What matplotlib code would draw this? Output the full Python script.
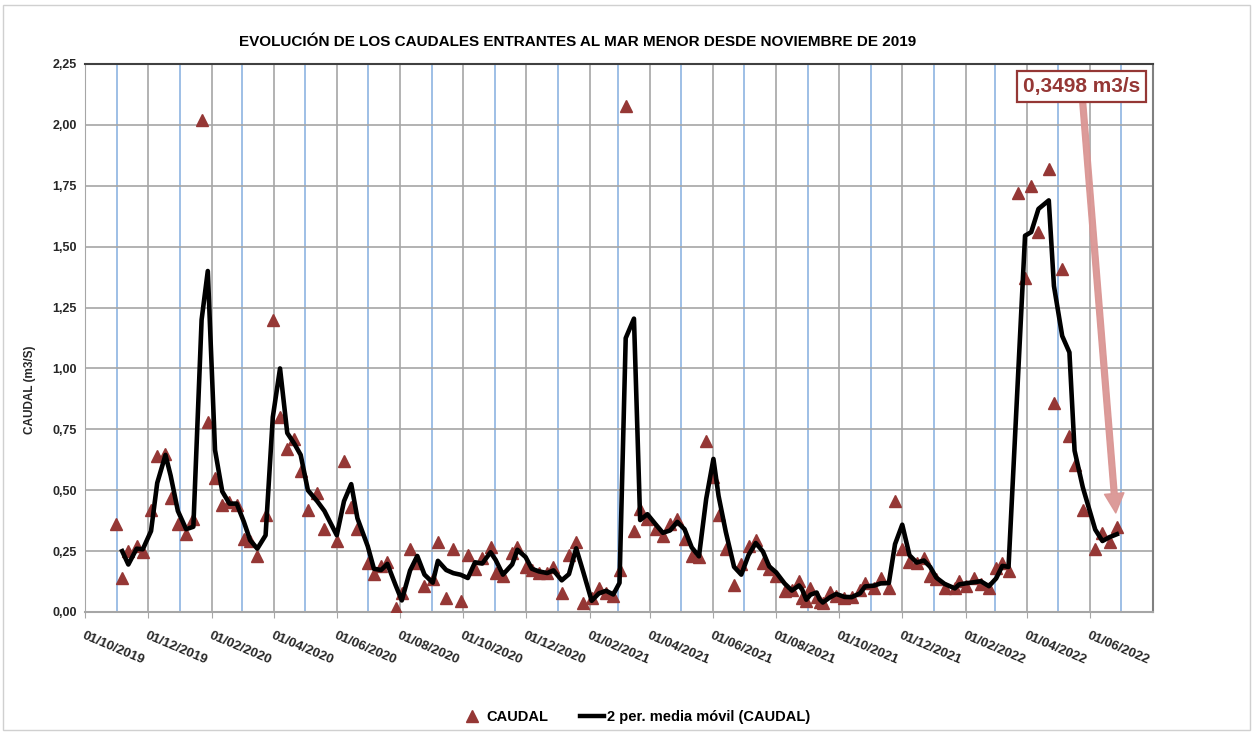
import matplotlib
matplotlib.use('Agg')
import matplotlib.pyplot as plt
import matplotlib.dates as mdates
from matplotlib.lines import Line2D
import numpy as np
import pandas as pd

fechas = [
    '2019-10-31', '2019-11-06', '2019-11-12', '2019-11-20', '2019-11-26',
    '2019-12-04', '2019-12-10', '2019-12-18', '2019-12-23', '2019-12-30',
    '2020-01-07', '2020-01-14', '2020-01-22', '2020-01-28', '2020-02-04',
    '2020-02-11', '2020-02-18', '2020-02-25', '2020-03-03', '2020-03-09',
    '2020-03-16', '2020-03-24', '2020-03-31', '2020-04-07', '2020-04-14',
    '2020-04-21', '2020-04-27', '2020-05-04', '2020-05-13', '2020-05-20',
    '2020-06-01', '2020-06-08', '2020-06-15', '2020-06-21', '2020-07-01',
    '2020-07-07', '2020-07-14', '2020-07-20', '2020-07-28', '2020-08-03',
    '2020-08-11', '2020-08-18', '2020-08-25', '2020-09-02', '2020-09-07',
    '2020-09-15', '2020-09-22', '2020-09-29', '2020-10-06', '2020-10-13',
    '2020-10-20', '2020-10-28', '2020-11-02', '2020-11-09', '2020-11-18',
    '2020-11-23', '2020-12-01', '2020-12-07', '2020-12-14', '2020-12-22',
    '2020-12-28', '2021-01-05', '2021-01-12', '2021-01-19', '2021-01-26',
    '2021-02-03', '2021-02-10', '2021-02-17', '2021-02-24', '2021-03-02',
    '2021-03-08', '2021-03-16', '2021-03-22', '2021-03-29', '2021-04-06',
    '2021-04-13', '2021-04-20', '2021-04-27', '2021-05-04', '2021-05-11',
    '2021-05-18', '2021-05-25', '2021-06-01', '2021-06-06', '2021-06-13',
    '2021-06-21', '2021-06-28', '2021-07-05', '2021-07-12', '2021-07-19',
    '2021-07-25', '2021-08-01', '2021-08-09', '2021-08-16', '2021-08-23',
    '2021-08-26', '2021-08-30', '2021-09-03', '2021-09-09', '2021-09-12',
    '2021-09-15', '2021-09-22', '2021-09-28', '2021-10-06', '2021-10-13',
    '2021-10-21', '2021-10-26', '2021-11-04', '2021-11-10', '2021-11-18',
    '2021-11-24', '2021-12-01', '2021-12-08', '2021-12-15', '2021-12-22',
    '2021-12-28', '2022-01-03', '2022-01-11', '2022-01-21', '2022-01-25',
    '2022-02-01', '2022-02-09', '2022-02-15', '2022-02-23', '2022-03-02',
    '2022-03-08', '2022-03-14', '2022-03-23', '2022-03-30', '2022-04-05',
    '2022-04-12', '2022-04-22', '2022-04-27', '2022-05-05', '2022-05-12',
    '2022-05-17', '2022-05-25', '2022-06-06', '2022-06-13', '2022-06-20',
    '2022-06-27',
]

caudal = [
    0.36, 0.14, 0.25, 0.27, 0.245,
    0.42, 0.64, 0.65, 0.47, 0.36,
    0.32, 0.38, 2.02, 0.78, 0.55,
    0.44, 0.45, 0.44, 0.30, 0.29,
    0.23, 0.40, 1.20, 0.80, 0.67,
    0.71, 0.58, 0.42, 0.49, 0.34,
    0.29, 0.62, 0.43, 0.34, 0.20,
    0.155, 0.19, 0.205, 0.015, 0.08,
    0.26, 0.20, 0.107, 0.134, 0.286,
    0.059, 0.26, 0.046, 0.233, 0.175,
    0.223, 0.268, 0.159, 0.148, 0.243,
    0.268, 0.183, 0.172, 0.161, 0.159,
    0.183, 0.077, 0.234, 0.289, 0.036,
    0.056, 0.097, 0.077, 0.067, 0.172,
    2.077, 0.332, 0.423, 0.38, 0.34,
    0.31, 0.36, 0.38, 0.30, 0.23,
    0.227, 0.702, 0.555, 0.398, 0.26,
    0.111, 0.196, 0.271, 0.296, 0.20,
    0.175, 0.148, 0.086, 0.09, 0.128,
    0.056, 0.045, 0.097, 0.063, 0.04,
    0.038, 0.083, 0.065, 0.059, 0.063,
    0.09, 0.12, 0.097, 0.138, 0.10,
    0.457, 0.26, 0.206, 0.20, 0.223,
    0.148, 0.134, 0.097, 0.097, 0.129,
    0.107, 0.138, 0.115, 0.097, 0.179,
    0.20, 0.17, 1.72, 1.37, 1.75,
    1.56, 1.82, 0.857, 1.41, 0.722,
    0.603, 0.42, 0.257, 0.326, 0.289,
    0.3498,
]

titulo = 'EVOLUCIÓN DE LOS CAUDALES ENTRANTES AL MAR MENOR DESDE NOVIEMBRE DE 2019'
ROJO = '#953735'
AZUL = '#8DB4E2'
GRIS = '#A6A6A6'


def main():
    df = pd.DataFrame({'fecha': pd.to_datetime(fechas), 'caudal': caudal})
    df['media'] = df['caudal'].rolling(2).mean()

    plt.rcParams['font.family'] = ['Liberation Sans', 'DejaVu Sans']
    fig = plt.figure(figsize=(12.54, 7.33), dpi=100)
    ax = fig.add_axes([85 / 1254, 1 - 612 / 733, 1068 / 1254, 548 / 733])

    ax.plot(df['fecha'], df['caudal'], '^', color=ROJO, ms=8.5, ls='none',
            zorder=3, label='CAUDAL')
    ax.plot(df['fecha'], df['media'], color='black', lw=3.3, zorder=4,
            label='2 per. media móvil (CAUDAL)')

    ax.set_xlim(pd.Timestamp('2019-10-01'), pd.Timestamp('2022-08-01'))
    ax.set_ylim(0, 2.25)

    mayores = pd.date_range('2019-10-01', '2022-06-01', freq='2MS')
    menores = pd.date_range('2019-11-01', '2022-07-01', freq='2MS')
    ax.set_xticks(mayores)
    ax.set_xticks(menores, minor=True)
    ax.xaxis.set_major_formatter(mdates.DateFormatter('%d/%m/%Y'))
    ax.set_yticks(np.arange(0, 2.26, 0.25))
    ax.set_yticklabels([f'{v:.2f}'.replace('.', ',') for v in np.arange(0, 2.26, 0.25)])

    ax.grid(which='major', color=GRIS, lw=1.2, zorder=0)
    ax.grid(which='minor', axis='x', color=AZUL, lw=1.2, zorder=0)
    ax.set_axisbelow(True)

    ax.tick_params(axis='x', which='major', length=4, color=GRIS, pad=9)
    ax.tick_params(axis='x', which='minor', length=0)
    ax.tick_params(axis='y', length=0, pad=6)
    for lab in ax.get_xticklabels():
        lab.set_rotation(-23)
        lab.set_rotation_mode('anchor')
        lab.set_ha('left')
        lab.set_va('top')
        lab.set_fontsize(9.5)
        lab.set_fontweight('bold')
        lab.set_color('#262626')
    for lab in ax.get_yticklabels():
        lab.set_fontsize(9)
        lab.set_fontweight('bold')
        lab.set_color('#262626')

    ax.spines['top'].set_color('#404040')
    ax.spines['top'].set_linewidth(1.5)
    ax.spines['right'].set_color('#808080')
    ax.spines['right'].set_linewidth(1.5)
    ax.spines['left'].set_color(GRIS)
    ax.spines['bottom'].set_color(GRIS)
    ax.spines['bottom'].set_linewidth(1.5)

    ax.annotate('0,3498 m3/s', xy=(df['fecha'].iloc[-1], df['caudal'].iloc[-1]),
                xytext=(0.933, 0.959), textcoords='axes fraction',
                ha='center', va='center', fontsize=15, fontweight='bold',
                color=ROJO, zorder=6,
                bbox=dict(boxstyle='square,pad=0.3', fc='white', ec=ROJO, lw=1.6),
                arrowprops=dict(arrowstyle='simple,head_length=1.4,head_width=1.4,tail_width=0.42',
                                mutation_scale=10, color='#DA9694', alpha=0.95,
                                shrinkA=0, shrinkB=10))

    fig.text(578 / 1254, 1 - 42 / 733, titulo, ha='center', va='center',
             fontsize=11, fontweight='bold')
    fig.text(30 / 1254, 1 - 390 / 733, 'CAUDAL (m3/S)', rotation=90,
             ha='center', va='center', fontsize=8.5, fontweight='bold',
             color='#262626')

    handles = [Line2D([], [], marker='^', color=ROJO, ls='none', ms=8),
               Line2D([], [], color='black', lw=3.2)]
    fig.legend(handles, ['CAUDAL', '2 per. media móvil (CAUDAL)'], loc='center',
               bbox_to_anchor=(635 / 1254, 1 - 717 / 733), ncol=2, frameon=False,
               handlelength=1.6, handletextpad=0.2, columnspacing=2.2,
               prop={'weight': 'bold', 'size': 10.5})

    fig.add_artist(plt.Rectangle((3 / 1254, 3 / 733), 1247 / 1254, 725 / 733,
                                 transform=fig.transFigure, fill=False,
                                 ec='#D0D0D0', lw=1))

    plt.savefig('out.png', dpi=100)


if __name__ == "__main__":
    main()
